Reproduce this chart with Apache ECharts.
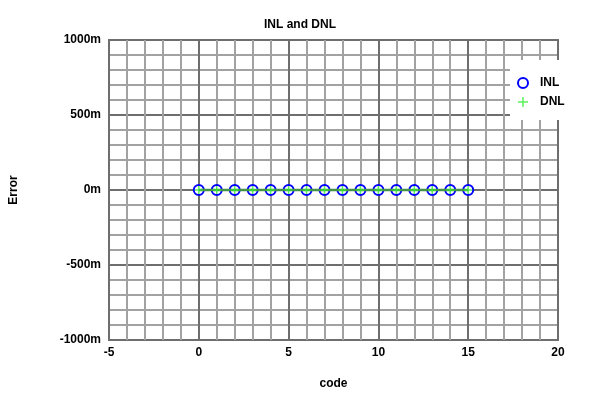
<!DOCTYPE html>
<html>
<head>
<meta charset="utf-8">
<script src="https://cdn.jsdelivr.net/npm/echarts@6/dist/echarts.min.js"></script>
<style>html,body{margin:0;padding:0;background:#fff}#c{width:600px;height:400px}</style>
</head>
<body>
<div id="c"></div>
<script>
var codes = [0, 1, 2, 3, 4, 5, 6, 7, 8, 9, 10, 11, 12, 13, 14, 15];
var inl = [0, 0, 0, 0, 0, 0, 0, 0, 0, 0, 0, 0, 0, 0, 0, 0];
var dnl = [0, 0, 0, 0, 0, 0, 0, 0, 0, 0, 0, 0, 0, 0, 0, 0];
var seriesNames = ['INL', 'DNL'];

var FONT = '"Liberation Sans", Arial, sans-serif';
var MAJOR = '#6e6e6e', MINOR = '#a2a2a2';
var plusPath = 'path://M0,5 L10,5 M5,0 L5,10';

function pairs(xs, ys) { return xs.map(function (x, i) { return [x, ys[i]]; }); }

var chart = echarts.init(document.getElementById('c'), null, { renderer: 'canvas' });
chart.setOption({
  animation: false,
  backgroundColor: '#fff',
  title: {
    text: 'INL and DNL', left: 'center', top: 14,
    textStyle: { fontFamily: FONT, fontSize: 12, fontWeight: 'bold', color: '#000' }
  },
  grid: {
    left: 108, right: 42, top: 40, bottom: 60,
    show: true, borderColor: MAJOR, borderWidth: 2, backgroundColor: 'transparent'
  },
  xAxis: {
    type: 'value', min: -5, max: 20, interval: 1,
    name: 'code', nameLocation: 'middle', nameGap: 38,
    nameTextStyle: { fontFamily: FONT, fontSize: 12, fontWeight: 'bold', color: '#000' },
    axisLine: { show: false }, axisTick: { show: false },
    axisLabel: {
      margin: 7, fontFamily: FONT, fontSize: 12, fontWeight: 'bold', color: '#000',
      formatter: function (v) { return v % 5 === 0 ? String(v) : ''; }
    },
    splitLine: { show: true, lineStyle: { width: 2, color: [MAJOR, MINOR, MINOR, MINOR, MINOR] } }
  },
  yAxis: {
    type: 'value', min: -1000, max: 1000, interval: 100,
    name: 'Error', nameLocation: 'middle', nameGap: 89, nameRotate: 90,
    nameTextStyle: { fontFamily: FONT, fontSize: 12, fontWeight: 'bold', color: '#000' },
    axisLine: { show: false }, axisTick: { show: false },
    axisLabel: {
      margin: 8, fontFamily: FONT, fontSize: 12, fontWeight: 'bold', color: '#000',
      formatter: function (v) { return v % 500 === 0 ? v + 'm' : ''; }
    },
    splitLine: { show: true, lineStyle: { width: 2, color: [MAJOR, MINOR, MINOR, MINOR, MINOR] } }
  },
  graphic: [{
    type: 'rect', z: 50, silent: true,
    shape: { x: 510, y: 60, width: 54, height: 60 },
    style: { fill: '#fff' }
  }],
  legend: {
    z: 60, orient: 'vertical', left: 512, top: 72,
    itemWidth: 16, itemHeight: 10, itemGap: 7,
    textStyle: { fontFamily: FONT, fontSize: 12, fontWeight: 'bold', color: '#000', padding: [0, 0, 0, 4] },
    data: [
      { name: seriesNames[0], icon: 'emptyCircle', itemStyle: { color: '#0000ff', borderColor: '#0000ff', borderWidth: 1.5 } },
      { name: seriesNames[1], icon: plusPath, itemStyle: { color: '#33ee33', borderColor: '#33ee33', borderWidth: 1.5 } }
    ]
  },
  series: [
    {
      name: seriesNames[0], type: 'line', z: 3,
      data: pairs(codes, inl),
      lineStyle: { width: 0, opacity: 0 },
      symbol: 'emptyCircle', symbolSize: 10,
      itemStyle: { color: '#0000ff', borderColor: '#0000ff', borderWidth: 2 }
    },
    {
      name: 'DNL line', type: 'line', z: 4,
      data: pairs(codes, dnl),
      showSymbol: false, symbol: 'none',
      lineStyle: { width: 2.5, color: '#44924a', opacity: 1 },
      itemStyle: { color: '#44924a' }
    },
    {
      name: seriesNames[1], type: 'scatter', z: 5,
      data: pairs(codes, dnl),
      symbol: plusPath, symbolSize: 8,
      itemStyle: { color: '#33ee33', borderColor: '#33ee33', borderWidth: 1.5 }
    }
  ]
});
</script>
</body>
</html>
